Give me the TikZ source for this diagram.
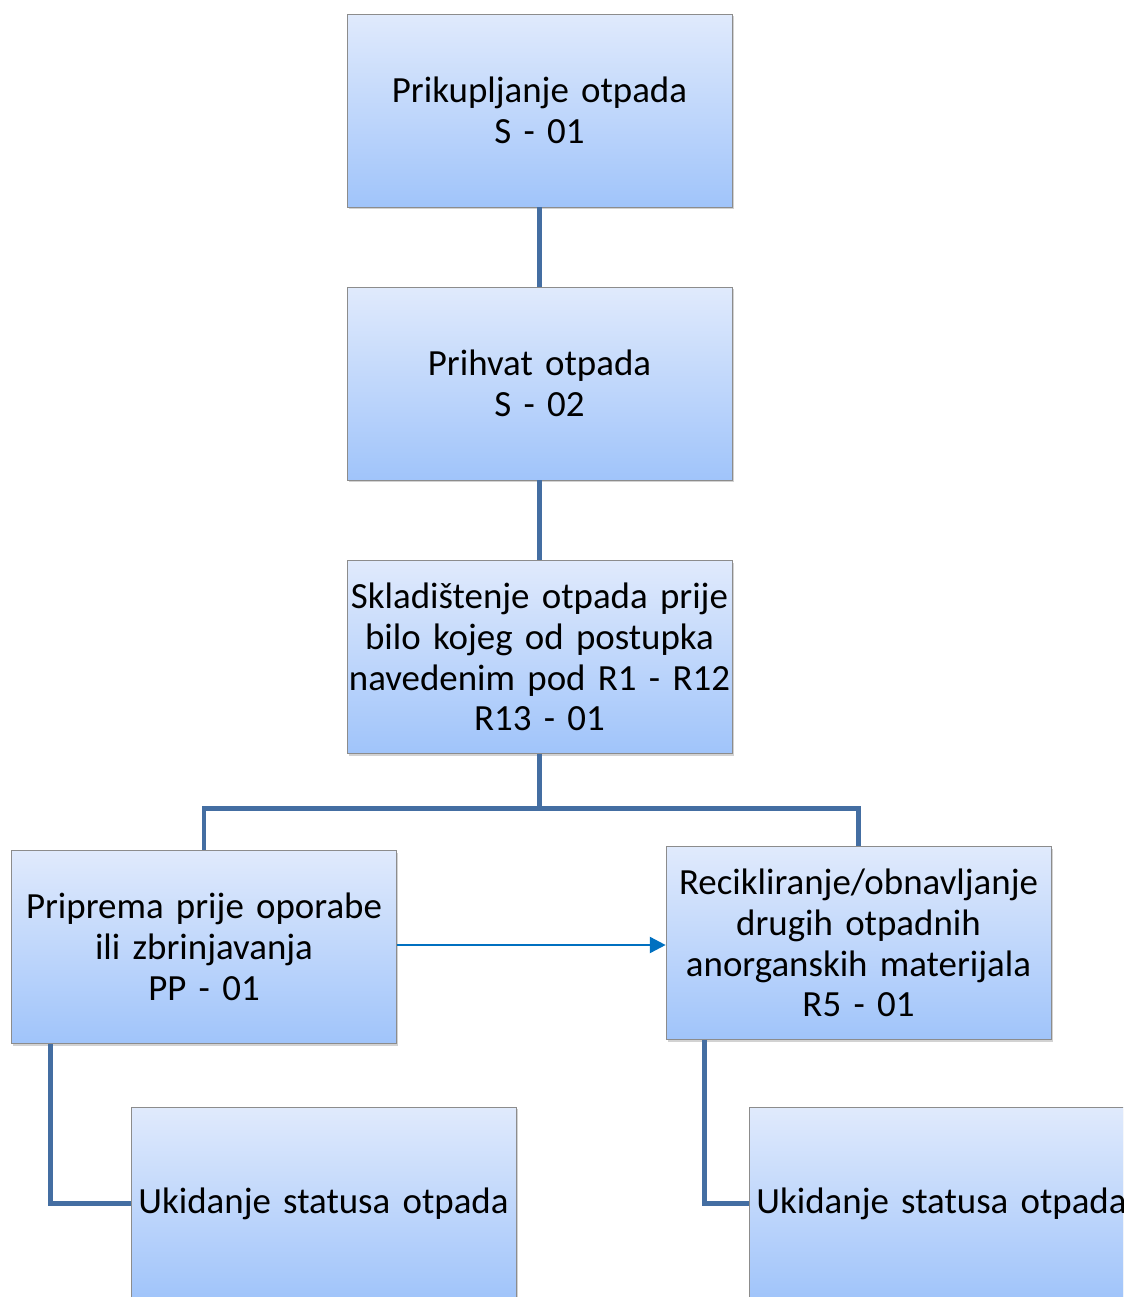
\documentclass[tikz,border=0pt]{standalone}
\usepackage{fontspec}
\setmainfont{Carlito}
\usetikzlibrary{positioning, arrows.meta, calc, shadows}
\definecolor{boxtop}{RGB}{224,234,252}
\definecolor{boxbottom}{RGB}{160,196,250}
\definecolor{linkblue}{RGB}{68,110,162}
\definecolor{arrowblue}{RGB}{0,112,192}

\begin{document}
\begin{tikzpicture}[x=0.02cm, y=-0.02cm]
        \tikzstyle{box} = [rectangle, draw=black!45, top color=boxtop, bottom color=boxbottom, minimum width=7.7cm, minimum height=3.86cm, text width=7.7cm, align=center, inner sep=0pt, font=\fontsize{21}{23.2}\selectfont, drop shadow={opacity=0.35, shadow xshift=1pt, shadow yshift=-1.2pt}]
        \tikzstyle{conn} = [draw=linkblue, line width=2.8pt]
        \tikzstyle{arrow} = [draw=arrowblue, line width=1.5pt, -{Triangle[length=9pt, width=9pt]}]

        \clip (0,0) rectangle (1123,1297);
        \fill[white] (0,0) rectangle (1123,1297);

        \node[box] (prikupljanje) at (539.5,110.5){Prikupljanje otpada\\S - 01};
        \node[box] (prihvat) at (539.5,383.5){Prihvat otpada\\S - 02};
        \node[box] (skladistenje) at (539.5,657){Skladištenje otpada prije\\bilo kojeg od postupka\\navedenim pod R1 - R12\\R13 - 01};
        \node[box] (priprema) at (204,947){Priprema prije oporabe\\ili zbrinjavanja\\PP - 01};
        \node[box] (recikliranje) at (858.5,943){Recikliranje/obnavljanje\\drugih otpadnih\\anorganskih materijala\\R5 - 01};
        \node[box] (ukidanjeL) at (323.5,1203.5){Ukidanje statusa otpada};
        \node[box] (ukidanjeR) at (941.5,1203.5){Ukidanje statusa otpada};

        \draw[conn] (prikupljanje.south) -- (prihvat.north);
        \draw[conn] (prihvat.south) -- (skladistenje.north);
        \draw[conn] (skladistenje.south) -- ++(0,55) -| (priprema.north);
        \draw[conn] (skladistenje.south) -- ++(0,55) -| (recikliranje.north);
        \draw[conn] ($(priprema.south west)+(39,0)$) |- (ukidanjeL.west);
        \draw[conn] ($(recikliranje.south west)+(39,0)$) |- (ukidanjeR.west);

        \draw[arrow] ($(priprema.east)+(0,-2)$) -- ($(priprema.east -| recikliranje.west)+(0,-2)$);

    \end{tikzpicture}
\end{document}
